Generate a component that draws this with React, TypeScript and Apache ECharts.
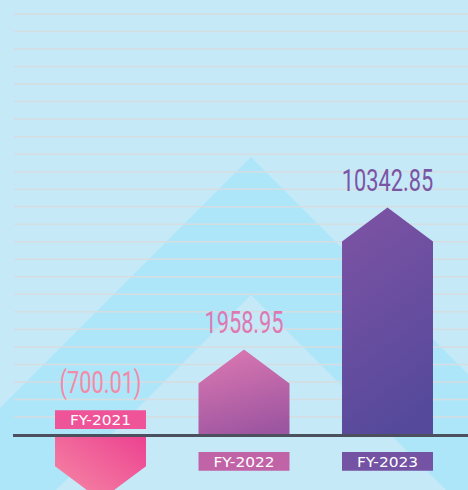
import React, { useEffect, useRef } from "react";
import * as echarts from "echarts";

const categories = ["FY-2021", "FY-2022", "FY-2023"];
const values = [-700.01, 1958.95, 10342.85];
const valueLabels = ["(700.01)", "1958.95", "10342.85"];

const W = 468;
const H = 490;
const Y_MIN = -2000;
const Y_MAX = 20000;
const GRID_TOP = 96.8;
const GRID_BOTTOM = 20.6;
const GRID_LEFT = 28.75;
const GRID_RIGHT = 8.75;
const PAD = 18.8;
const CAP = 34;

const gradTop = ["#ec4190", "#d976b1", "#7b52a3"];
const gradBottom = ["#f68ca6", "#9c55a0", "#54499b"];
const boxColors = ["#ef5398", "#c163a7", "#7452a4"];
const labelColors = ["#f28aa8", "#dc79b3", "#7a55a4"];

export default function App() {
  const ref = useRef<HTMLDivElement>(null);
  useEffect(() => {
    if (!ref.current) return;
    const chart = echarts.init(ref.current, null, { renderer: "svg" });
    const gridH = H - GRID_TOP - GRID_BOTTOM;
    const zeroY = GRID_TOP + (gridH * Y_MAX) / (Y_MAX - Y_MIN);

    const graphics: any[] = [
      {
        type: "polygon",
        z: -3,
        silent: true,
        shape: { points: [[251, 157], [-300, 708], [802, 708]] },
        style: { fill: "#aee6f9" },
      },
      {
        type: "polygon",
        z: -2,
        silent: true,
        shape: { points: [[251, 295], [-300, 846], [802, 846]] },
        style: { fill: "#c6e9f8" },
      },
    ];
    for (let n = 0; n < 24; n++) {
      const y = 14 + n * 17.52;
      graphics.push({
        type: "line",
        z: -1,
        silent: true,
        shape: { x1: 14, y1: y, x2: W, y2: y },
        style: { stroke: "#d6dde1", lineWidth: 1.5 },
      });
    }
    graphics.push({
      type: "line",
      z: 10,
      silent: true,
      shape: { x1: 13, y1: zeroY, x2: W, y2: zeroY },
      style: { stroke: "#4b4f5e", lineWidth: 3 },
    });

    chart.setOption({
      animation: false,
      backgroundColor: "#c6e9f8",
      grid: { left: GRID_LEFT, right: GRID_RIGHT, top: GRID_TOP, bottom: GRID_BOTTOM },
      xAxis: {
        type: "category",
        data: categories,
        show: false,
      },
      yAxis: {
        type: "value",
        min: Y_MIN,
        max: Y_MAX,
        show: false,
      },
      graphic: graphics,
      series: [
        {
          type: "custom",
          clip: false,
          z: 5,
          data: values.map((v, i) => [i, v]),
          renderItem: (params: any, api: any) => {
            const i = api.value(0);
            const v = api.value(1);
            const base = api.coord([i, 0]);
            const tip = api.coord([i, v]);
            const bw = api.size([1, 0])[0] * 0.634;
            const cx = base[0];
            const y0 = base[1];
            const dir = v >= 0 ? -1 : 1;
            const body = Math.abs(tip[1] - y0) + PAD;
            const ys = y0 + dir * body;
            const ya = ys + dir * CAP;
            const fill =
              v >= 0
                ? new echarts.graphic.LinearGradient(0.35, 0, 0.65, 1, [
                    { offset: 0, color: gradTop[i] },
                    { offset: 1, color: gradBottom[i] },
                  ])
                : new echarts.graphic.LinearGradient(1, 0, 0, 1, [
                    { offset: 0, color: gradTop[i] },
                    { offset: 1, color: gradBottom[i] },
                  ]);
            const boxH = 18.7;
            const boxTop = v >= 0 ? y0 + 16.5 : y0 - 25.2;
            const labelY = v >= 0 ? ya - 27 : y0 - 53.5;
            return {
              type: "group",
              children: [
                {
                  type: "polygon",
                  shape: {
                    points: [
                      [cx - bw / 2, y0],
                      [cx - bw / 2, ys],
                      [cx, ya],
                      [cx + bw / 2, ys],
                      [cx + bw / 2, y0],
                    ],
                  },
                  style: { fill },
                },
                {
                  type: "rect",
                  shape: { x: cx - bw / 2, y: boxTop, width: bw, height: boxH },
                  style: { fill: boxColors[i] },
                },
                {
                  type: "text",
                  x: cx,
                  y: boxTop + boxH / 2 + 0.5,
                  scaleX: 1.1,
                  style: {
                    text: categories[i],
                    fill: "#ffffff",
                    font: '14px "DejaVu Sans"',
                    align: "center",
                    verticalAlign: "middle",
                  },
                },
                {
                  type: "text",
                  x: cx,
                  y: labelY,
                  scaleX: 0.68,
                  style: {
                    text: valueLabels[i],
                    fill: labelColors[i],
                    font: '32px Roboto',
                    align: "center",
                    verticalAlign: "middle",
                  },
                },
              ],
            };
          },
        },
      ],
    });
    return () => chart.dispose();
  }, []);
  return (
    <div
      ref={ref}
      style={{ position: "fixed", left: 0, top: 0, width: W, height: H }}
    />
  );
}
